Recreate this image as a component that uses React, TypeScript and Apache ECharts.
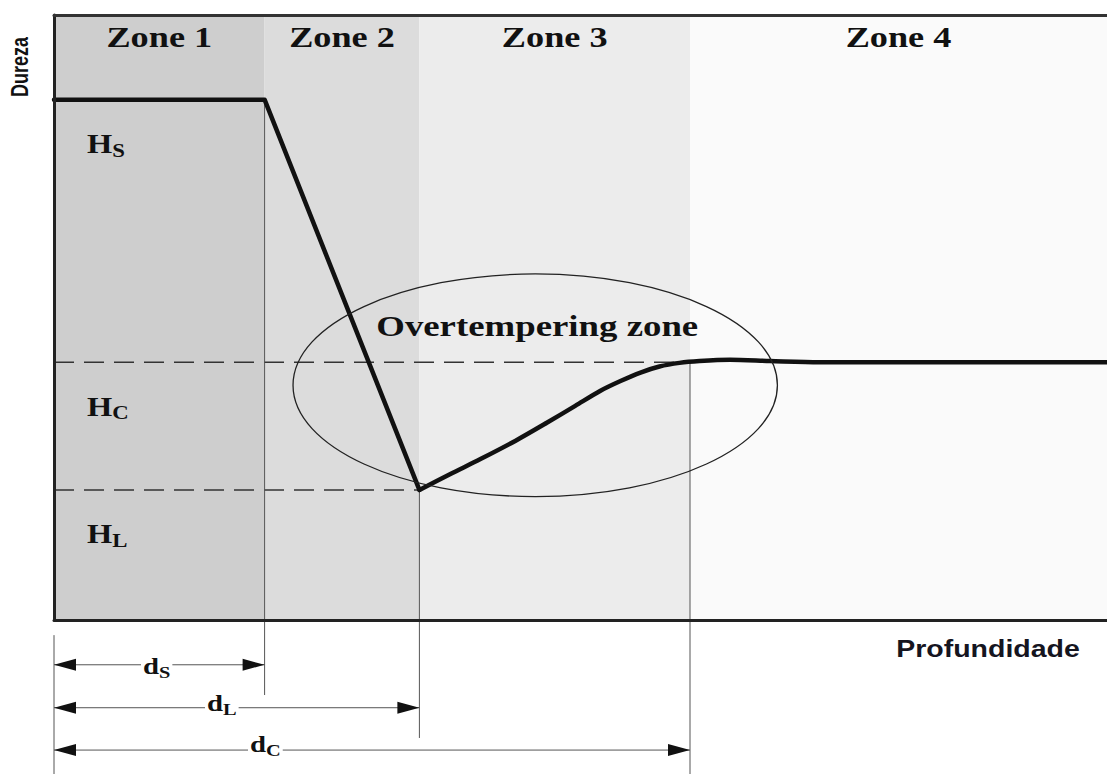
import React, { useEffect, useRef } from "react";
import * as echarts from "echarts";

// ---- data (depth in arbitrary units 0..10, hardness 0..100) ----
const zoneNames = ["Zone 1", "Zone 2", "Zone 3", "Zone 4"];
const zoneEdges = [0, 2.0, 3.47, 6.04, 10];
const levelSubs = ["S", "C", "L"];
const levelValues = [86, 42.6, 21.5]; // HS, HC, HL
const depthSubs = ["S", "L", "C"];
const depthMarks = [2.0, 3.47, 6.04]; // dS, dL, dC
const dropX = [0, 2.0, 3.47];
const dropY = [86, 86, 21.5];
const recoveryX = [3.47, 3.76, 4.05, 4.38, 4.68, 4.95, 5.19, 5.38, 5.57, 5.75, 5.94, 6.13, 6.42, 6.8, 7.27, 10];
const recoveryY = [21.5, 24.1, 26.6, 29.6, 32.6, 35.4, 37.9, 39.5, 40.9, 41.9, 42.5, 42.8, 43.0, 42.8, 42.6, 42.6];
const overtemperCenter = [4.57, 38.8];
const overtemperRadii = [2.3, 18.4];

// ---- styles ----
const X_MAX = 10;
const Y_MAX = 100;
const SERIF = '"Liberation Serif", "Times New Roman", serif';
const SANS = '"Liberation Sans", Arial, sans-serif';
const INK = "#111";
const zoneColors = ["#cecece", "#dcdcdc", "#ececec", "#fafafa"];
const GUIDE = "#555";

export default function App() {
  const ref = useRef<HTMLDivElement>(null);
  useEffect(() => {
    const chart = echarts.init(ref.current!, null, { renderer: "svg" });
    const [dS, dL, dC] = depthMarks;
    const [HS, HC, HL] = levelValues;
    const dimY = [-7.4, -14.5, -21.5];
    const guideEnds = [-12.4, -19.5, -25.5];
    const guideStarts = [HS, HL, HC];

    const seg = (pts: number[][], style: any, z = 3) => ({
      type: "line",
      data: pts,
      symbol: "none",
      clip: false,
      silent: true,
      z,
      lineStyle: style,
    });
    const thin = { color: GUIDE, width: 1 };
    const dashed = { color: "#333", width: 1.5, type: [20, 10] };
    const curve = { color: INK, width: 4.5, join: "round", cap: "round" };

    const series: any[] = [
      {
        type: "custom",
        z: 1,
        silent: true,
        data: zoneEdges.slice(0, -1).map((e, i) => [e, zoneEdges[i + 1]]),
        encode: { x: [0, 1] },
        renderItem: (params: any, api: any) => {
          const p0 = api.coord([api.value(0), Y_MAX]);
          const p1 = api.coord([api.value(1), 0]);
          return {
            type: "rect",
            shape: { x: p0[0], y: p0[1], width: p1[0] - p0[0], height: p1[1] - p0[1] },
            style: { fill: zoneColors[params.dataIndex] },
          };
        },
      },
      // dashed hardness levels
      seg([[0, HC], [dC, HC]], dashed),
      seg([[0, HL], [dL, HL]], dashed),
      // vertical guides
      ...depthMarks.map((d, i) => seg([[d, guideStarts[i]], [d, guideEnds[i]]], thin)),
      seg([[0, -2.5], [0, -25.5]], thin),
      // dimension lines
      ...depthMarks.map((d, i) => seg([[0, dimY[i]], [d, dimY[i]]], thin)),
      // hardness profile
      seg(dropX.map((x, i) => [x, dropY[i]]), curve, 6),
      { ...seg(recoveryX.map((x, i) => [x, recoveryY[i]]), curve, 6), smooth: 0.3 },
    ];

    const axisCommon = {
      type: "value",
      min: 0,
      max: X_MAX,
      axisTick: { show: false },
      axisLabel: { show: false },
      splitLine: { show: false },
      z: 10,
    };

    chart.setOption({
      animation: false,
      grid: { left: 54, right: 0, top: 15, bottom: 154 },
      xAxis: [
        { ...axisCommon, position: "bottom", axisLine: { show: true, onZero: false, lineStyle: { color: "#222", width: 3 } } },
        { ...axisCommon, position: "top", axisLine: { show: true, onZero: false, lineStyle: { color: "#333", width: 3 } } },
      ],
      yAxis: { ...axisCommon, max: Y_MAX, axisLine: { show: true, onZero: false, lineStyle: { color: "#222", width: 3 } } },
      series,
    });

    const px = (x: number, y: number) => chart.convertToPixel({ gridIndex: 0 }, [x, y]) as number[];
    const ctx = document.createElement("canvas").getContext("2d")!;
    const measure = (t: string, size: number) => {
      ctx.font = `bold ${size}px ${SERIF}`;
      return ctx.measureText(t).width;
    };
    const serifText = (text: string, x: number, base: number, fs: number, sx: number, align = "left") => ({
      type: "text",
      x,
      y: base - 0.34 * fs,
      scaleX: sx,
      z: 30,
      silent: true,
      style: { text, fontSize: fs, fontWeight: "bold", fontFamily: SERIF, fill: INK, align, verticalAlign: "middle" },
    });
    const subLabel = (x: number, base: number, main: string, sub: string, fm: number, fs: number, sx: number, drop: number) => {
      const w = measure(main, fm) * sx;
      return [serifText(main, x, base, fm, sx), serifText(sub, x + w, base + drop, fs, sx)];
    };

    const graphics: any[] = [];
    // zone labels
    zoneNames.forEach((n, i) => {
      const cx = px((zoneEdges[i] + zoneEdges[i + 1]) / 2, Y_MAX)[0];
      graphics.push(serifText(n, cx, 47, 29, 1.25, "center"));
    });
    // hardness labels
    levelValues.forEach((v, i) => {
      const y = px(0, v)[1];
      graphics.push(...subLabel(87, y + 53, "H", levelSubs[i], 27, 19, 1.2, 4));
    });
    // ellipse
    const c = px(overtemperCenter[0], overtemperCenter[1]);
    const e = px(overtemperCenter[0] + overtemperRadii[0], overtemperCenter[1] + overtemperRadii[1]);
    graphics.push({
      type: "ellipse",
      z: 25,
      silent: true,
      shape: { cx: c[0], cy: c[1], rx: e[0] - c[0], ry: c[1] - e[1] },
      style: { fill: "none", stroke: "#222", lineWidth: 1.3 },
    });
    graphics.push(serifText("Overtempering zone", c[0] + 2, 336, 29, 1.27, "center"));

    // dimension arrows + labels
    const labelLeft = [143, 207, 250];
    const labelDrop = [9, 3, 2];
    depthMarks.forEach((d, i) => {
      const p0 = px(0, dimY[i]);
      const p1 = px(d, dimY[i]);
      const y = p0[1];
      const L = 22, W = 6;
      graphics.push({
        type: "polygon", z: 28, silent: true,
        shape: { points: [[p0[0], y], [p0[0] + L, y - W], [p0[0] + L, y + W]] },
        style: { fill: INK },
      });
      graphics.push({
        type: "polygon", z: 28, silent: true,
        shape: { points: [[p1[0], y], [p1[0] - L, y - W], [p1[0] - L, y + W]] },
        style: { fill: INK },
      });
      const fm = 24, fs = 17, sx = 1.2;
      const w = (measure("d", fm) + measure(depthSubs[i], fs)) * sx;
      graphics.push({
        type: "rect", z: 27, silent: true,
        shape: { x: labelLeft[i] - 2, y: y - 4, width: w + 4, height: 8 },
        style: { fill: "#fff" },
      });
      graphics.push(...subLabel(labelLeft[i], y + labelDrop[i], "d", depthSubs[i], fm, fs, sx, 4));
    });

    // axis titles
    graphics.push({
      type: "group", x: 20, y: 67, scaleX: 1.3, z: 30,
      children: [
        {
          type: "text", x: 0, y: 0, rotation: Math.PI / 2, z: 30, silent: true,
          style: { text: "Dureza", fontSize: 18, fontWeight: "bold", fontFamily: SANS, fill: INK, align: "center", verticalAlign: "middle" },
        },
      ],
    });
    graphics.push({
      type: "text", x: 988, y: 649, scaleX: 1.24, z: 30, silent: true,
      style: { text: "Profundidade", fontSize: 23, fontWeight: "bold", fontFamily: SANS, fill: "#15151f", align: "center", verticalAlign: "middle" },
    });

    chart.setOption({ graphic: { elements: graphics } });
    return () => chart.dispose();
  }, []);
  return <div ref={ref} style={{ position: "absolute", left: 0, top: 0, width: 1107, height: 774, background: "#fff" }} />;
}
